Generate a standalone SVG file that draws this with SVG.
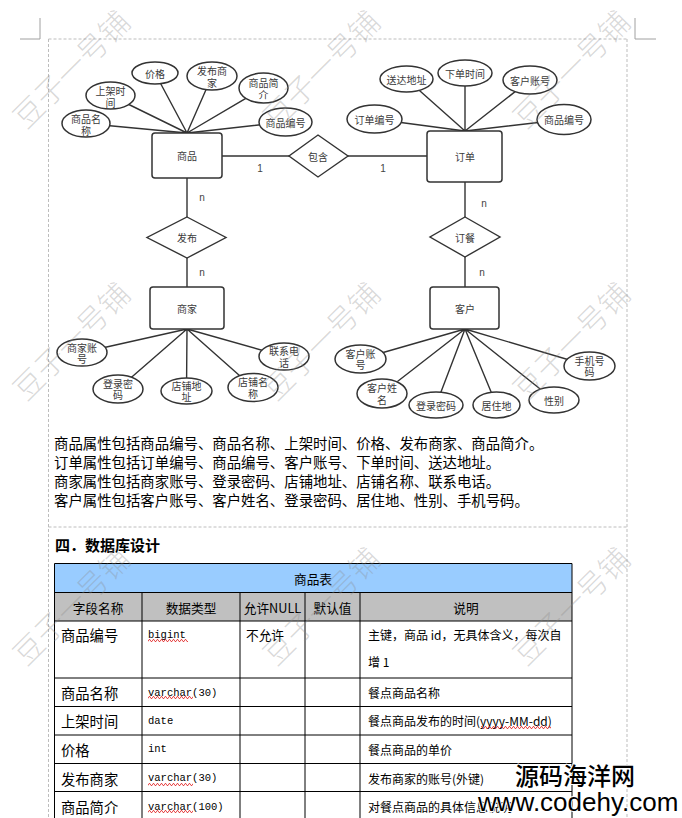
<svg xmlns="http://www.w3.org/2000/svg" width="682" height="818" viewBox="0 0 682 818">
<style>
.pg{stroke:#bdbdbd;stroke-width:1;stroke-dasharray:3 2;fill:none}
.crn{stroke:#a0a0a0;stroke-width:1;fill:none}
.ln{stroke:#333;stroke-width:1.4;fill:none}
.ent{fill:#fff;stroke:#333;stroke-width:1.5}
.att{fill:#fff;stroke:#333;stroke-width:1.5}
.rel{fill:#fff;stroke:#333;stroke-width:1.4}
.er{font-family:"Noto Sans CJK SC","Liberation Sans",sans-serif;font-size:10px;fill:#3a3a3a;text-anchor:middle;dominant-baseline:central}
.card{font-family:"Liberation Sans","Noto Sans CJK SC",sans-serif;font-size:10px;fill:#444;text-anchor:middle;dominant-baseline:central}
.para{font-family:"Noto Sans CJK SC",sans-serif;font-size:14.4px;fill:#000;dominant-baseline:central}
.h{font-family:"Noto Sans CJK SC",sans-serif;font-size:15px;font-weight:bold;fill:#000;dominant-baseline:central}
.tb{stroke:#000;stroke-width:1;fill:none}
.th{font-family:"Noto Sans CJK SC",sans-serif;font-size:12.7px;fill:#000;text-anchor:middle;dominant-baseline:central}
.tf{font-family:"Noto Sans CJK SC",sans-serif;font-size:14.3px;fill:#000;dominant-baseline:central}
.td{font-family:"Liberation Mono","DejaVu Sans Mono",monospace;font-size:10.5px;fill:#000;dominant-baseline:central}
.tn{font-family:"Noto Sans CJK SC",sans-serif;font-size:12.7px;fill:#000;dominant-baseline:central}
.ts{font-family:"Noto Sans CJK SC",sans-serif;font-size:12px;fill:#000;dominant-baseline:central}
.wm{font-family:"Noto Sans CJK SC",sans-serif;font-size:30px;font-weight:300;fill:#8a8a8a;fill-opacity:0.33;text-anchor:middle;dominant-baseline:central}
.logo{font-family:"Noto Sans CJK SC",sans-serif;font-size:24px;font-weight:500;fill:#000;stroke:#fff;stroke-width:2;paint-order:stroke}
.url{font-family:"Liberation Sans",Arial,sans-serif;font-size:26px;fill:#000;stroke:#fff;stroke-width:2;paint-order:stroke}
</style>
<defs>
<pattern id="wavy" width="4" height="3" patternUnits="userSpaceOnUse">
<path d="M0 2.5 L1 0.6 L2 0.6 L3 2.5 L4 2.5" stroke="#e02020" stroke-width="0.8" fill="none"/>
</pattern>
</defs>
<rect width="682" height="818" fill="#fff"/>

<g id="page">
<path class="crn" d="M40 18 V39 H20 M635 18 V39 H656"/>
<path class="pg" d="M48.5 39 H627 M48.5 39 V818 M627 39 V818 M48.5 527 H627"/>
</g>

<g id="connectors">
<path class="ln" d="M187 133 L86 123.5 M187 133 L110.5 95.5 M187 133 L155 73 M187 133 L212 76 M187 133 L263.5 88 M187 133 L285.5 122"/>
<path class="ln" d="M465 131 L374.5 119 M465 131 L406.5 79 M465 131 L465 73 M465 131 L530 80 M465 131 L564 119.5"/>
<path class="ln" d="M187 329 L82 352.5 M187 329 L118 389 M187 329 L186.5 391 M187 329 L253 387.5 M187 329 L284 356.5"/>
<path class="ln" d="M465 329 L360.5 359 M465 329 L382 393.5 M465 329 L436 405 M465 329 L496.5 405 M465 329 L554 400 M465 329 L589.5 366"/>
<path class="ln" d="M222 156 H289 M348 156 H427 M187 178 V217 M187 258 V287 M465 182 V217 M465 257 V287"/>
<text class="card" x="260" y="168">1</text>
<text class="card" x="383" y="168">1</text>
<text class="card" x="202" y="197">n</text>
<text class="card" x="202" y="272">n</text>
<text class="card" x="484" y="203">n</text>
<text class="card" x="482" y="272">n</text>
</g>

<g id="e-shangpin"><rect class="ent" x="152" y="133" width="70" height="45" rx="3"/><text class="er" x="187" y="155.5">商品</text></g>
<g id="e-dingdan"><rect class="ent" x="427" y="131" width="75" height="51" rx="3"/><text class="er" x="465" y="156.5">订单</text></g>
<g id="e-shangjia"><rect class="ent" x="150" y="287" width="74" height="42" rx="3"/><text class="er" x="187" y="308">商家</text></g>
<g id="e-kehu"><rect class="ent" x="430" y="287" width="69" height="42" rx="3"/><text class="er" x="465" y="308">客户</text></g>

<g id="r-baohan"><polygon class="rel" points="318,135 348,156 318,177 289,156"/><text class="er" x="318" y="156">包含</text></g>
<g id="r-fabu"><polygon class="rel" points="187,217 226,237.5 187,258 147,237.5"/><text class="er" x="187" y="237.5">发布</text></g>
<g id="r-dingcan"><polygon class="rel" points="465,217 500,237 465,257 430,237"/><text class="er" x="465" y="237">订餐</text></g>

<g id="a-sp-mc"><ellipse class="att" cx="86" cy="123.5" rx="24" ry="13.5"/><text class="er" x="86" y="118">商品名</text><text class="er" x="86" y="130">称</text></g>
<g id="a-sp-sj"><ellipse class="att" cx="110.5" cy="95.5" rx="24.5" ry="13.5"/><text class="er" x="110.5" y="90">上架时</text><text class="er" x="110.5" y="102">间</text></g>
<g id="a-sp-jg"><ellipse class="att" cx="155" cy="73" rx="23" ry="11"/><text class="er" x="155" y="73">价格</text></g>
<g id="a-sp-fb"><ellipse class="att" cx="212" cy="76" rx="25" ry="14"/><text class="er" x="212" y="70">发布商</text><text class="er" x="212" y="82">家</text></g>
<g id="a-sp-jj"><ellipse class="att" cx="263.5" cy="88" rx="24.5" ry="15"/><text class="er" x="263.5" y="82">商品简</text><text class="er" x="263.5" y="94">介</text></g>
<g id="a-sp-bh"><ellipse class="att" cx="285.5" cy="122" rx="26.5" ry="14"/><text class="er" x="285.5" y="122">商品编号</text></g>

<g id="a-dd-bh"><ellipse class="att" cx="374.5" cy="119" rx="27.5" ry="14"/><text class="er" x="374.5" y="119">订单编号</text></g>
<g id="a-dd-dz"><ellipse class="att" cx="406.5" cy="79" rx="26.5" ry="13"/><text class="er" x="406.5" y="79">送达地址</text></g>
<g id="a-dd-sj"><ellipse class="att" cx="465" cy="73" rx="27" ry="13"/><text class="er" x="465" y="73">下单时间</text></g>
<g id="a-dd-zh"><ellipse class="att" cx="530" cy="80" rx="27" ry="14"/><text class="er" x="530" y="80">客户账号</text></g>
<g id="a-dd-sp"><ellipse class="att" cx="564" cy="119.5" rx="27" ry="15"/><text class="er" x="564" y="119.5">商品编号</text></g>

<g id="a-sj-zh"><ellipse class="att" cx="82" cy="352.5" rx="25" ry="13.5"/><text class="er" x="82" y="347">商家账</text><text class="er" x="82" y="358.5">号</text></g>
<g id="a-sj-mm"><ellipse class="att" cx="118" cy="389" rx="25" ry="14"/><text class="er" x="118" y="383">登录密</text><text class="er" x="118" y="394.5">码</text></g>
<g id="a-sj-dz"><ellipse class="att" cx="186.5" cy="391" rx="25.5" ry="13"/><text class="er" x="186.5" y="385">店铺地</text><text class="er" x="186.5" y="396.5">址</text></g>
<g id="a-sj-mc"><ellipse class="att" cx="253" cy="387.5" rx="25" ry="14"/><text class="er" x="253" y="381.5">店铺名</text><text class="er" x="253" y="393">称</text></g>
<g id="a-sj-dh"><ellipse class="att" cx="284" cy="356.5" rx="25" ry="13.5"/><text class="er" x="284" y="350.5">联系电</text><text class="er" x="284" y="362">话</text></g>

<g id="a-kh-zh"><ellipse class="att" cx="360.5" cy="359" rx="25.5" ry="14"/><text class="er" x="360.5" y="353">客户账</text><text class="er" x="360.5" y="364.5">号</text></g>
<g id="a-kh-xm"><ellipse class="att" cx="382" cy="393.5" rx="25" ry="14.5"/><text class="er" x="382" y="387.5">客户姓</text><text class="er" x="382" y="399">名</text></g>
<g id="a-kh-mm"><ellipse class="att" cx="436" cy="405" rx="27" ry="13"/><text class="er" x="436" y="405">登录密码</text></g>
<g id="a-kh-jz"><ellipse class="att" cx="496.5" cy="405" rx="23.5" ry="13"/><text class="er" x="496.5" y="405">居住地</text></g>
<g id="a-kh-xb"><ellipse class="att" cx="554" cy="400" rx="25" ry="13"/><text class="er" x="554" y="400">性别</text></g>
<g id="a-kh-sj"><ellipse class="att" cx="589.5" cy="366" rx="25.5" ry="14"/><text class="er" x="589.5" y="360">手机号</text><text class="er" x="589.5" y="371.5">码</text></g>

<g id="paragraph">
<text class="para" x="54" y="442.5">商品属性包括商品编号、商品名称、上架时间、价格、发布商家、商品简介。</text>
<text class="para" x="54" y="461.5">订单属性包括订单编号、商品编号、客户账号、下单时间、送达地址。</text>
<text class="para" x="54" y="480.5">商家属性包括商家账号、登录密码、店铺地址、店铺名称、联系电话。</text>
<text class="para" x="54" y="499.5">客户属性包括客户账号、客户姓名、登录密码、居住地、性别、手机号码。</text>
<text class="h" x="55" y="544">四．数据库设计</text>
</g>

<g id="table">
<rect x="54.5" y="563.5" width="517.5" height="29" fill="#99ccff"/>
<rect x="54.5" y="592.5" width="517.5" height="28.5" fill="#c0c0c0"/>
<path class="tb" d="M54.5 563.5 H572 M54.5 592.5 H572 M54.5 621 H572 M54.5 678 H572 M54.5 706.5 H572 M54.5 735 H572 M54.5 763.5 H572 M54.5 791.5 H572 M54.5 563.5 V818 M572 563.5 V818 M142 592.5 V818 M240 592.5 V818 M305 592.5 V818 M360 592.5 V818"/>
<text class="th" x="313" y="578">商品表</text>
<text class="th" x="98" y="607">字段名称</text>
<text class="th" x="191" y="607">数据类型</text>
<text class="th" x="272.5" y="607">允许NULL</text>
<text class="th" x="332.5" y="607">默认值</text>
<text class="th" x="466" y="607">说明</text>

<text class="tf" x="61" y="634.5">商品编号</text>
<text class="td" x="148" y="634.5">bigint</text>
<text class="tn" x="246" y="634.5">不允许</text>
<text class="ts" x="368" y="634.5">主键，商品 id，无具体含义，每次自</text>
<text class="ts" x="368" y="661.5">增 1</text>

<text class="tf" x="61" y="692.5">商品名称</text>
<text class="td" x="148" y="692.5">varchar(30)</text>
<text class="ts" x="368" y="692.5">餐点商品名称</text>

<text class="tf" x="61" y="720.5">上架时间</text>
<text class="td" x="148" y="720.5">date</text>
<text class="ts" x="368" y="720.5">餐点商品发布的时间(yyyy-MM-dd)</text>

<text class="tf" x="61" y="749">价格</text>
<text class="td" x="148" y="749">int</text>
<text class="ts" x="368" y="749">餐点商品的单价</text>

<text class="tf" x="61" y="778">发布商家</text>
<text class="td" x="148" y="778">varchar(30)</text>
<text class="ts" x="368" y="778">发布商家的账号(外键)</text>

<text class="tf" x="61" y="806.5">商品简介</text>
<text class="td" x="148" y="806.5">varchar(100)</text>
<text class="ts" x="368" y="806.5">对餐点商品的具体信息说明</text>

<rect x="148" y="639" width="40" height="3" fill="url(#wavy)"/>
<rect x="148" y="696" width="45" height="3" fill="url(#wavy)"/>
<rect x="481" y="726" width="70" height="3" fill="url(#wavy)"/>
<rect x="148" y="783" width="45" height="3" fill="url(#wavy)"/>
<rect x="148" y="810" width="45" height="3" fill="url(#wavy)"/>
</g>

<g id="watermark">
<text class="wm" transform="translate(70,68) rotate(-45)">豆子一号铺</text>
<text class="wm" transform="translate(320,68) rotate(-45)">豆子一号铺</text>
<text class="wm" transform="translate(570,68) rotate(-45)">豆子一号铺</text>
<text class="wm" transform="translate(70,340) rotate(-45)">豆子一号铺</text>
<text class="wm" transform="translate(320,340) rotate(-45)">豆子一号铺</text>
<text class="wm" transform="translate(570,340) rotate(-45)">豆子一号铺</text>
<text class="wm" transform="translate(70,605) rotate(-45)">豆子一号铺</text>
<text class="wm" transform="translate(320,605) rotate(-45)">豆子一号铺</text>
<text class="wm" transform="translate(570,605) rotate(-45)">豆子一号铺</text>
</g>

<g id="site-mark">
<text class="logo" x="515" y="785">源码海洋网</text>
<text class="url" x="478" y="811">www.codehy.com</text>
</g>
</svg>
